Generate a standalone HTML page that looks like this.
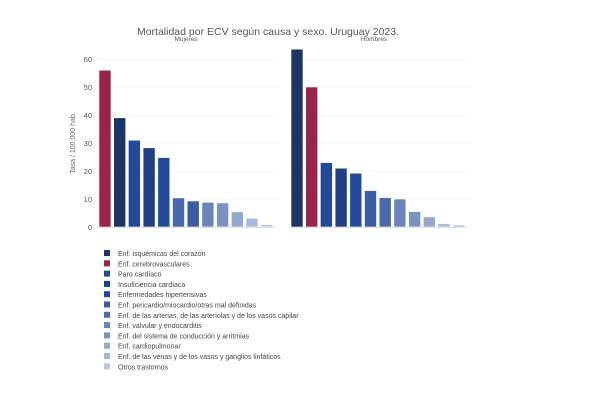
<!DOCTYPE html>
<html><head><meta charset="utf-8"><style>
body{margin:0;background:#fff;width:600px;height:400px;overflow:hidden;font-family:"Liberation Sans",sans-serif}
</style></head><body>
<svg width="600" height="400" xmlns="http://www.w3.org/2000/svg" font-family="Liberation Sans, sans-serif">
<text x="268" y="35" font-size="10.5" fill="#555" text-anchor="middle">Mortalidad por ECV según causa y sexo. Uruguay 2023.</text>
<text x="186" y="41" font-size="6.5" fill="#555" text-anchor="middle">Mujeres</text>
<text x="374" y="41" font-size="6.5" fill="#555" text-anchor="middle">Hombres</text>
<text transform="translate(75,143) rotate(-90)" font-size="7" fill="#666" text-anchor="middle">Tasa / 100.000 hab.</text>
<g stroke="#f0f0f0" stroke-width="0.7">
<line x1="97" x2="275" y1="59" y2="59"/><line x1="97" x2="275" y1="87" y2="87"/><line x1="97" x2="275" y1="115" y2="115"/><line x1="97" x2="275" y1="143" y2="143"/><line x1="97" x2="275" y1="171" y2="171"/><line x1="97" x2="275" y1="199" y2="199"/>
<line x1="289" x2="467" y1="59" y2="59"/><line x1="289" x2="467" y1="87" y2="87"/><line x1="289" x2="467" y1="115" y2="115"/><line x1="289" x2="467" y1="143" y2="143"/><line x1="289" x2="467" y1="171" y2="171"/><line x1="289" x2="467" y1="199" y2="199"/>
</g>
<g stroke="#ccc" stroke-width="0.8"><line x1="97" x2="275" y1="227.5" y2="227.5"/><line x1="289" x2="467" y1="227.5" y2="227.5"/></g>
<g font-size="7.5" fill="#555" text-anchor="end">
<text x="92" y="230">0</text><text x="92" y="202">10</text><text x="92" y="174">20</text><text x="92" y="146">30</text><text x="92" y="118">40</text><text x="92" y="90">50</text><text x="92" y="62">60</text>
</g>
<g stroke="#fff" stroke-width="0.6">
<rect x="99" y="70.2" width="12" height="156.8" fill="#972449"/>
<rect x="113.7" y="117.8" width="12" height="109.2" fill="#1b3565"/>
<rect x="128.4" y="140.2" width="12" height="86.8" fill="#234a98"/>
<rect x="143.1" y="147.8" width="12" height="79.2" fill="#1f4085"/>
<rect x="157.8" y="157.6" width="12" height="69.4" fill="#234a98"/>
<rect x="172.5" y="197.9" width="12" height="29.1" fill="#4a69a8"/>
<rect x="187.2" y="201" width="12" height="26" fill="#3a5ea2"/>
<rect x="201.9" y="202.4" width="12" height="24.6" fill="#6a84b8"/>
<rect x="216.6" y="202.9" width="12" height="24.1" fill="#7c93c2"/>
<rect x="231.3" y="211.9" width="12" height="15.1" fill="#93a7cf"/>
<rect x="246" y="218.3" width="12" height="8.7" fill="#a8badb"/>
<rect x="260.7" y="224.5" width="12" height="2.5" fill="#b3c4e4"/>
<rect x="291" y="49.2" width="12" height="177.8" fill="#1b3565"/>
<rect x="305.7" y="87" width="12" height="140" fill="#972449"/>
<rect x="320.4" y="162.6" width="12" height="64.4" fill="#234a98"/>
<rect x="335.1" y="168.2" width="12" height="58.8" fill="#1f4085"/>
<rect x="349.8" y="173.2" width="12" height="53.8" fill="#234a98"/>
<rect x="364.5" y="190.6" width="12" height="36.4" fill="#3a5ea2"/>
<rect x="379.2" y="197.6" width="12" height="29.4" fill="#4a69a8"/>
<rect x="393.9" y="199" width="12" height="28" fill="#6a84b8"/>
<rect x="408.6" y="211.6" width="12" height="15.4" fill="#7c93c2"/>
<rect x="423.3" y="216.9" width="12" height="10.1" fill="#93a7cf"/>
<rect x="438" y="223.6" width="12" height="3.4" fill="#a8badb"/>
<rect x="452.7" y="225" width="12" height="2" fill="#b3c4e4"/>
</g>
<g font-size="7" fill="#444">
<rect x="104" y="250" width="6" height="6" fill="#1b3565"/><text x="118" y="256">Enf. isquémicas del corazón</text>
<rect x="104" y="260.3" width="6" height="6" fill="#972449"/><text x="118" y="266.3">Enf. cerebrovasculares</text>
<rect x="104" y="270.6" width="6" height="6" fill="#234a98"/><text x="118" y="276.6">Paro cardíaco</text>
<rect x="104" y="280.9" width="6" height="6" fill="#1f4085"/><text x="118" y="286.9">Insuficiencia cardíaca</text>
<rect x="104" y="291.2" width="6" height="6" fill="#234a98"/><text x="118" y="297.2">Enfermedades hipertensivas</text>
<rect x="104" y="301.5" width="6" height="6" fill="#3a5ea2"/><text x="118" y="307.5">Enf. pericardio/miocardio/otras mal definidas</text>
<rect x="104" y="311.8" width="6" height="6" fill="#4a69a8"/><text x="118" y="317.8">Enf. de las arterias, de las arteriolas y de los vasos capilar</text>
<rect x="104" y="322.1" width="6" height="6" fill="#6a84b8"/><text x="118" y="328.1">Enf. valvular y endocarditis</text>
<rect x="104" y="332.4" width="6" height="6" fill="#7c93c2"/><text x="118" y="338.4">Enf. del sistema de conducción y arritmias</text>
<rect x="104" y="342.7" width="6" height="6" fill="#93a7cf"/><text x="118" y="348.7">Enf. cardiopulmonar</text>
<rect x="104" y="353" width="6" height="6" fill="#a8badb"/><text x="118" y="359">Enf. de las venas y de los vasos y ganglios linfáticos</text>
<rect x="104" y="363.3" width="6" height="6" fill="#b3c4e4"/><text x="118" y="369.3">Otros trastornos</text>
</g>
</svg>
</body></html>
